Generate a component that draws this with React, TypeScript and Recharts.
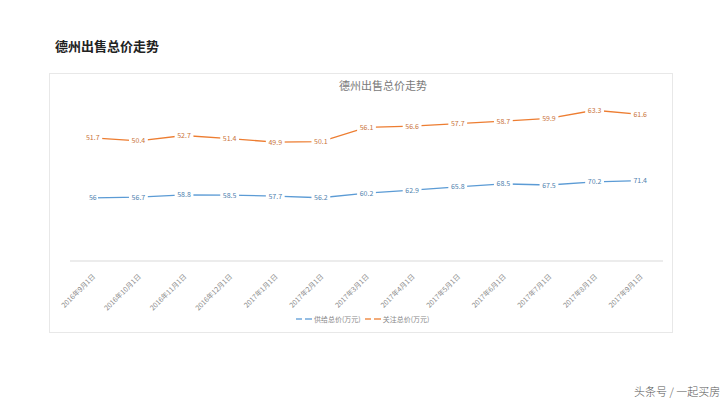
import React from "react";
import { LineChart, Line, XAxis, YAxis, LabelList } from "recharts";

const categories = [
  "2016年9月1日", "2016年10月1日", "2016年11月1日", "2016年12月1日",
  "2017年1月1日", "2017年2月1日", "2017年3月1日", "2017年4月1日",
  "2017年5月1日", "2017年6月1日", "2017年7月1日", "2017年8月1日", "2017年9月1日",
];
const supplyTotal = [56, 56.7, 58.8, 58.5, 57.7, 56.2, 60.2, 62.9, 65.8, 68.5, 67.5, 70.2, 71.4];
const attentionTotal = [51.7, 50.4, 52.7, 51.4, 49.9, 50.1, 56.1, 56.6, 57.7, 58.7, 59.9, 63.3, 61.6];
const seriesNames = ["供给总价(万元)", "关注总价(万元)"];

const data = categories.map((c, i) => ({
  name: c,
  supply: supplyTotal[i],
  attention: attentionTotal[i],
}));

const BLUE = "#5B9BD5";
const ORANGE = "#ED7D31";
const CJK = "'Noto Sans CJK SC', 'Noto Sans', sans-serif";

const makeLabel = (color: string) => (props: any) => {
  const { x, y, value } = props;
  const txt = String(value);
  const w = txt.length * 4.2 + 2;
  return (
    <g>
      <rect x={x - w / 2} y={y - 4} width={w} height={8} fill="#fff" />
      <text x={x} y={y} dy={2.5} textAnchor="middle" fontSize={7} fill={color} fontFamily={CJK}>
        {txt}
      </text>
    </g>
  );
};

const Tick = (props: any) => {
  const { x, y, payload } = props;
  return (
    <text
      x={x + 3}
      y={y + 8}
      transform={`rotate(-45, ${x + 3}, ${y + 8})`}
      textAnchor="end"
      fontSize={7}
      fill="#8a8a8a"
      fontFamily={CJK}
    >
      {payload.value}
    </text>
  );
};

export default function App() {
  return (
    <div style={{ position: "absolute", left: 0, top: 0, width: 720, height: 406, background: "#fff", overflow: "hidden" }}>
      <div style={{ position: "absolute", left: 55, top: 36, fontFamily: CJK, fontSize: 13, fontWeight: 700, color: "#222", letterSpacing: 0 }}>
        德州出售总价走势
      </div>
      <div style={{ position: "absolute", left: 49, top: 73, width: 622, height: 258, border: "1px solid #e8e8e8" }} />
      <div style={{ position: "absolute", left: 283, width: 200, top: 77, textAlign: "center", fontFamily: CJK, fontSize: 11, color: "#7a7a7a" }}>
        德州出售总价走势
      </div>
      <div style={{ position: "absolute", left: 0, top: 0 }}>
        <LineChart width={720} height={406} data={data} margin={{ top: 100, right: 57, bottom: 85, left: 70 }}>
          <XAxis
            dataKey="name"
            interval={0}
            height={60}
            padding={{ left: 22.8, right: 22.8 }}
            tick={<Tick />}
            tickLine={false}
            axisLine={{ stroke: "#d9d9d9" }}
          />
          <YAxis yAxisId="supply" hide domain={[0, 143]} />
          <YAxis yAxisId="attention" hide orientation="right" domain={[0, 67.6]} />
          <Line yAxisId="supply" dataKey="supply" name={seriesNames[0]} stroke={BLUE} strokeWidth={1.3} dot={false} isAnimationActive={false}>
            <LabelList dataKey="supply" content={makeLabel("#4f7fae")} />
          </Line>
          <Line yAxisId="attention" dataKey="attention" name={seriesNames[1]} stroke={ORANGE} strokeWidth={1.3} dot={false} isAnimationActive={false}>
            <LabelList dataKey="attention" content={makeLabel("#c9733a")} />
          </Line>
        </LineChart>
      </div>
      <div style={{ position: "absolute", left: 296, top: 314, display: "flex", alignItems: "center", fontFamily: CJK, fontSize: 7, color: "#888", whiteSpace: "nowrap" }}>
        {[BLUE, ORANGE].map((c, i) => (
          <div key={i} style={{ display: "flex", alignItems: "center", marginRight: 4 }}>
            <svg width={16} height={8} style={{ marginRight: 2 }}>
              <line x1={0} y1={4} x2={6} y2={4} stroke={c} strokeWidth={1.3} />
              <line x1={9} y1={4} x2={16} y2={4} stroke={c} strokeWidth={1.3} />
            </svg>
            <span>{seriesNames[i]}</span>
          </div>
        ))}
      </div>
      <div style={{ position: "absolute", left: 634, top: 383, fontFamily: CJK, fontSize: 11, color: "#555", fontWeight: 300, whiteSpace: "nowrap" }}>
        头条号 / 一起买房
      </div>
    </div>
  );
}
